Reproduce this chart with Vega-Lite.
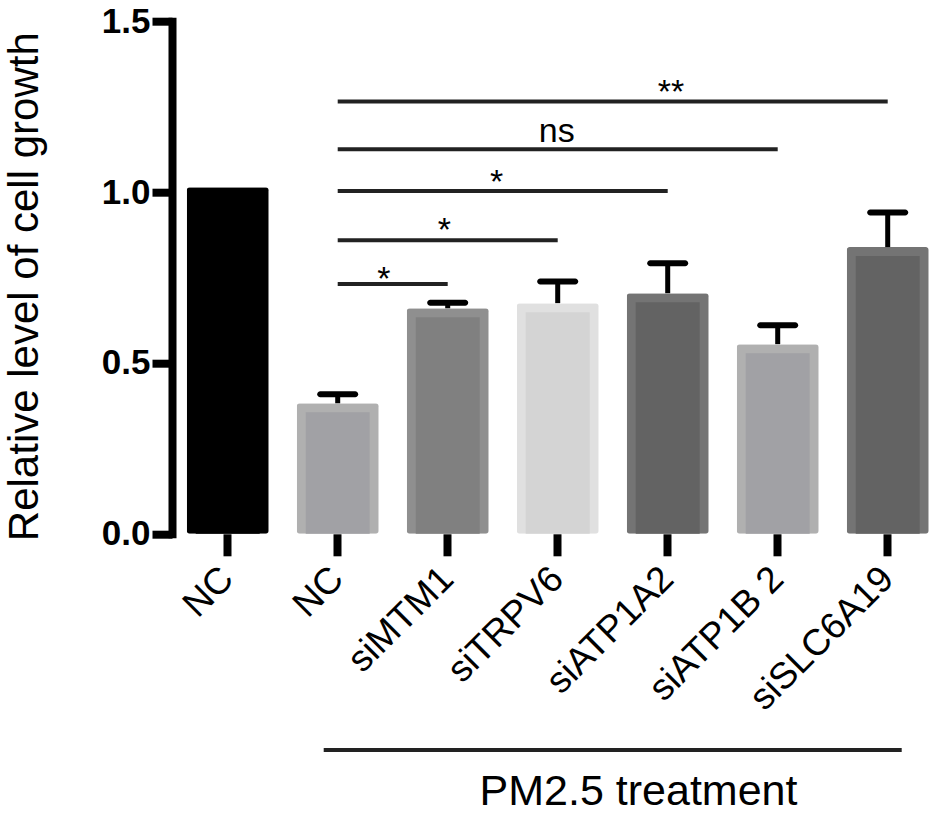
{
  "$schema": "https://vega.github.io/schema/vega-lite/v6.json",
  "width": 760,
  "height": 512.6,
  "autosize": {"type": "none"},
  "padding": {"left": 172, "top": 21.2, "right": 0, "bottom": 284.2},
  "config": {"view": {"stroke": null}, "font": "Liberation Sans"},
  "datasets": {
    "bars": [
      {"group": "NC", "mean": 1.014, "upper": null},
      {"group": "PM2.5 NC", "mean": 0.382, "upper": 0.408},
      {"group": "siMTM1", "mean": 0.660, "upper": 0.676},
      {"group": "siTRPV6", "mean": 0.675, "upper": 0.738},
      {"group": "siATP1A2", "mean": 0.704, "upper": 0.792},
      {"group": "siATP1B 2", "mean": 0.555, "upper": 0.610},
      {"group": "siSLC6A19", "mean": 0.839, "upper": 0.940}
    ],
    "sig": [
      {"from": "PM2.5 NC", "to": "siMTM1", "y": 0.731, "label": "*", "lx": 1.425, "ly": 0.7135},
      {"from": "PM2.5 NC", "to": "siTRPV6", "y": 0.859, "label": "*", "lx": 1.974, "ly": 0.857},
      {"from": "PM2.5 NC", "to": "siATP1A2", "y": 1.003, "label": "*", "lx": 2.45, "ly": 0.998},
      {"from": "PM2.5 NC", "to": "siATP1B 2", "y": 1.125, "label": "ns", "lx": 2.995, "ly": 1.1475},
      {"from": "PM2.5 NC", "to": "siSLC6A19", "y": 1.265, "label": "**", "lx": 4.035, "ly": 1.262}
    ],
    "bracket": [
      {"from": "PM2.5 NC", "to": "siSLC6A19", "y": -0.633}
    ]
  },
  "layer": [
    {
      "layer": [
        {
          "data": {"name": "bars"},
          "mark": {"type": "bar", "width": {"band": 1}, "cornerRadius": 3},
          "encoding": {
            "x": {
              "field": "group", "type": "nominal", "sort": null, "title": "PM2.5 treatment",
              "scale": {
                "domain": ["NC", "PM2.5 NC", "siMTM1", "siTRPV6", "siATP1A2", "siATP1B 2", "siSLC6A19"],
                "paddingInner": 0.2545, "paddingOuter": 0.0818, "align": 0.817
              },
              "axis": {
                "title": "PM2.5 treatment", "titleFont": "Liberation Sans", "titleFontSize": 43, "titleFontWeight": "normal",
                "titleColor": "black", "titleX": 466, "titleY": 270.2, "titleAlign": "center", "titleBaseline": "alphabetic", "titleAngle": 0,
                "domain": false, "ticks": true, "tickColor": "black", "tickWidth": 8, "tickSize": 22,
                "labelAngle": -45, "labelAlign": "right", "labelBaseline": "middle", "labelFont": "Liberation Sans",
                "labelFontSize": 37, "labelColor": "black", "labelPadding": 17, "labelOverlap": false, "labelLimit": 0,
                "labelExpr": "datum.value == 'PM2.5 NC' ? 'NC' : datum.value"
              }
            },
            "y": {
              "field": "mean", "type": "quantitative", "title": "Relative level of cell growth",
              "scale": {"domain": [0, 1.5], "nice": false, "zero": true},
              "axis": {
                "values": [0, 0.5, 1, 1.5], "format": ".1f", "grid": false,
                "domainColor": "black", "domainWidth": 8, "domainCap": "square",
                "tickColor": "black", "tickWidth": 8, "tickSize": 20,
                "labelFont": "Liberation Sans", "labelFontWeight": "bold", "labelFontSize": 35, "labelColor": "black", "labelPadding": 2,
                "title": "Relative level of cell growth", "titleFont": "Liberation Sans", "titleFontSize": 42, "titleFontWeight": "normal",
                "titleColor": "black", "titleX": -135, "titleY": 265, "titleAngle": -90, "titleAlign": "center", "titleBaseline": "alphabetic"
              }
            },
            "color": {
              "field": "group", "type": "nominal", "legend": null,
              "scale": {
                "domain": ["NC", "PM2.5 NC", "siMTM1", "siTRPV6", "siATP1A2", "siATP1B 2", "siSLC6A19"],
                "range": ["#000000", "#b0b0b0", "#8f8f8f", "#e0e0e0", "#747474", "#b0b0b0", "#747474"]
              }
            }
          }
        },
        {
          "data": {"name": "bars"},
          "mark": {"type": "bar", "width": {"band": 0.78}, "yOffset": 9, "clip": true},
          "encoding": {
            "x": {"field": "group", "type": "nominal", "sort": null, "title": "PM2.5 treatment"},
            "y": {"field": "mean", "type": "quantitative", "title": "Relative level of cell growth"},
            "fill": {
              "field": "group", "type": "nominal", "legend": null,
              "scale": {
                "domain": ["NC", "PM2.5 NC", "siMTM1", "siTRPV6", "siATP1A2", "siATP1B 2", "siSLC6A19"],
                "range": ["#000000", "#a1a1a5", "#808080", "#d4d4d4", "#636363", "#a1a1a5", "#636363"]
              }
            }
          }
        },
        {
          "data": {"name": "bars"},
          "transform": [{"filter": "datum.upper != null"}],
          "mark": {"type": "rule", "strokeWidth": 5, "color": "black"},
          "encoding": {
            "x": {"field": "group", "type": "nominal", "sort": null, "title": "PM2.5 treatment"},
            "y": {"field": "mean", "type": "quantitative", "title": "Relative level of cell growth"},
            "y2": {"field": "upper"}
          }
        },
        {
          "data": {"name": "bars"},
          "transform": [{"filter": "datum.upper != null"}],
          "mark": {"type": "tick", "size": 41, "thickness": 6, "color": "black", "opacity": 1, "cornerRadius": 3},
          "encoding": {
            "x": {"field": "group", "type": "nominal", "sort": null, "title": "PM2.5 treatment"},
            "y": {"field": "upper", "type": "quantitative", "title": "Relative level of cell growth"}
          }
        },
        {
          "data": {"name": "sig"},
          "mark": {"type": "rule", "strokeWidth": 4, "color": "#222222"},
          "encoding": {
            "x": {"field": "from", "type": "nominal", "sort": null, "title": "PM2.5 treatment"},
            "x2": {"field": "to"},
            "y": {"field": "y", "type": "quantitative", "title": "Relative level of cell growth"}
          }
        },
        {
          "data": {"name": "bracket"},
          "mark": {"type": "rule", "strokeWidth": 4, "color": "#222222", "xOffset": -14, "x2Offset": 14},
          "encoding": {
            "x": {"field": "from", "type": "nominal", "sort": null, "title": "PM2.5 treatment"},
            "x2": {"field": "to"},
            "y": {"field": "y", "type": "quantitative", "title": "Relative level of cell growth"}
          }
        }
      ]
    },
    {
      "data": {"name": "sig"},
      "mark": {"type": "text", "fontSize": 34, "baseline": "alphabetic", "align": "center", "color": "black", "font": "Liberation Sans"},
      "encoding": {
        "x": {"field": "lx", "type": "quantitative", "scale": {"domain": [-0.502, 6.407], "nice": false, "zero": false}, "axis": null},
        "y": {"field": "ly", "type": "quantitative", "title": "Relative level of cell growth"},
        "text": {"field": "label"}
      }
    }
  ],
  "resolve": {"scale": {"x": "independent"}}
}
